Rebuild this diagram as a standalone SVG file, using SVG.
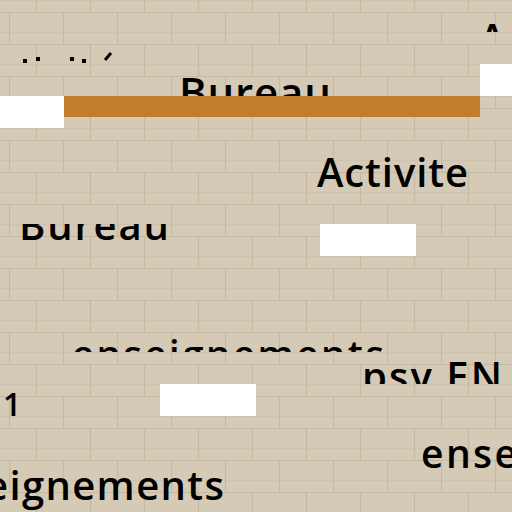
<svg xmlns="http://www.w3.org/2000/svg" width="512" height="512" viewBox="0 0 512 512">
<defs>
<pattern id="brick" x="9" y="12" width="54" height="64" patternUnits="userSpaceOnUse">
<rect width="54" height="64" fill="#d4cab6"/>
<path d="M0 0.5H54M0 32.5H54" stroke="#c5b9a2" stroke-width="1.2" fill="none"/>
<path d="M0 20.5H54M0 52.5H54" stroke="#cdc3ae" stroke-width="1" fill="none"/>
<path d="M0.5 0V32M27.5 32V64" stroke="#c5b9a2" stroke-width="1.2" fill="none"/>
</pattern>
<clipPath id="cTopBureau"><rect x="0" y="64" width="512" height="32"/></clipPath>
<clipPath id="cA"><rect x="480" y="0" width="32" height="32"/></clipPath>
<clipPath id="cBureau2"><rect x="0" y="224" width="320" height="32"/></clipPath>
<clipPath id="cEns"><rect x="0" y="320" width="512" height="32"/></clipPath>
<clipPath id="cPsy"><rect x="0" y="352" width="512" height="32"/></clipPath>
</defs>
<style>
.t{font-family:"Open Sans","Noto Sans",sans-serif;font-weight:600;fill:#000}
.w{fill:#ffffff}
</style>
<rect width="512" height="512" fill="url(#brick)"/>
<g id="fragments">
<rect x="23" y="59" width="4" height="4"/>
<rect x="36" y="57" width="4" height="4"/>
<rect x="70" y="57" width="4" height="4"/>
<rect x="82" y="59" width="4" height="4"/>
<line x1="105" y1="60" x2="111" y2="53" stroke="#000" stroke-width="3"/>
</g>
<g id="text-A" clip-path="url(#cA)"><text class="t" x="479" y="53" font-size="40">A</text></g>
<g id="text-bureau-top" clip-path="url(#cTopBureau)"><text class="t" x="179" y="108" font-size="42" textLength="152">Bureau</text></g>
<g id="bar"><rect x="64" y="96" width="416" height="21" fill="#c27c2e"/></g>
<g id="text-activite"><text class="t" x="317" y="187" font-size="40" textLength="151">Activite</text></g>
<g id="text-bureau-2" clip-path="url(#cBureau2)"><text class="t" x="19" y="240" font-size="40" textLength="150">Bureau</text></g>
<g id="text-enseignements" clip-path="url(#cEns)"><text class="t" x="72" y="368" font-size="38" textLength="312">enseignements</text></g>
<g id="text-psy" clip-path="url(#cPsy)"><text class="t" x="362" y="391" font-size="40" textLength="140">psy EN</text></g>
<g id="text-1"><text class="t" x="3" y="416" font-size="32">1</text></g>
<g id="text-ense"><text class="t" x="421" y="468" font-size="39" textLength="96">ense</text></g>
<g id="text-eignements"><text class="t" x="-15" y="500" font-size="40" textLength="239">eignements</text></g>
<g id="white-blocks">
<rect class="w" x="0" y="96" width="64" height="32"/>
<rect class="w" x="480" y="64" width="32" height="32"/>
<rect class="w" x="320" y="224" width="96" height="32"/>
<rect class="w" x="160" y="384" width="96" height="32"/>
</g>
</svg>
